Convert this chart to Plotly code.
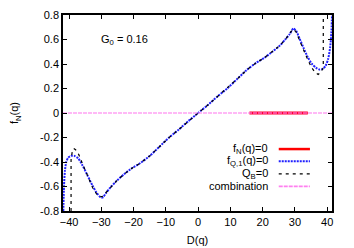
import plotly.graph_objects as go

# f_Q,1(q)=0 curve (blue dotted)
fq_D = [-41.8, -41.6, -41.3, -40.9, -40.3, -39.4, -38.4, -37.2, -35.8, -34.3,
        -32.8, -31.5, -30.4, -29.6, -28.6, -27.3, -25.5, -23.0, -20.5, -18.0,
        -15.0, -12.0, -9.0, -6.0, -3.0, 0.0, 3.0, 6.0, 9.0, 12.0,
        15.0, 18.0, 20.5, 23.0, 25.3, 27.0, 28.4, 29.5, 30.4, 31.4,
        32.7, 34.0, 35.3, 36.5, 37.6, 38.6, 39.5, 40.3, 40.9, 41.3, 41.5]
fq_f = [-0.80, -0.60, -0.47, -0.40, -0.365, -0.35, -0.35, -0.37, -0.43, -0.51,
        -0.59, -0.65, -0.685, -0.69, -0.655, -0.61, -0.56, -0.50, -0.45, -0.41,
        -0.35, -0.275, -0.20, -0.135, -0.065, 0.0, 0.065, 0.135, 0.20, 0.275,
        0.35, 0.41, 0.45, 0.50, 0.55, 0.60, 0.645, 0.69, 0.67, 0.61,
        0.53, 0.455, 0.40, 0.37, 0.355, 0.36, 0.385, 0.44, 0.53, 0.65, 0.80]

# Q_B=0 curve (black dashed)
qb_D = [-39.4, -39.4, -39.0, -38.6, -38.0, -37.0, -35.6, -34.1, -32.7, -31.5,
        -30.5, -29.6, -28.6, -27.3, -25.5, -23.0, -20.5, -18.0, -15.0, -12.0,
        -9.0, -6.0, -3.0, 0.0, 3.0, 6.0, 9.0, 12.0, 15.0, 18.0,
        20.5, 23.0, 25.3, 27.0, 28.4, 29.4, 30.3, 31.3, 32.6, 33.9,
        35.2, 36.3, 37.2, 38.0, 38.8, 38.8]
qb_f = [-0.80, -0.38, -0.31, -0.29, -0.30, -0.34, -0.43, -0.53, -0.61, -0.66,
        -0.685, -0.68, -0.65, -0.61, -0.56, -0.50, -0.45, -0.41, -0.35, -0.275,
        -0.20, -0.135, -0.065, 0.0, 0.065, 0.135, 0.20, 0.275, 0.35, 0.41,
        0.45, 0.50, 0.55, 0.60, 0.645, 0.685, 0.665, 0.60, 0.52, 0.44,
        0.37, 0.33, 0.315, 0.33, 0.37, 0.80]

# f_N(q)=0 segment (red) and combination (magenta)
fn_D = [15.9, 34.0]
fn_f = [0.0, 0.0]
comb_D = [-41.9, 41.5]
comb_f = [0.0, 0.0]

x_ticks = [-40, -30, -20, -10, 0, 10, 20, 30, 40]
y_ticks = [-0.8, -0.6, -0.4, -0.2, 0, 0.2, 0.4, 0.6, 0.8]
y_labels = ["-0.8", "-0.6", "-0.4", "-0.2", "0", "0.2", "0.4", "0.6", "0.8"]

series_names = ["f<sub>N</sub>(q)=0", "f<sub>Q,1</sub>(q)=0", "Q<sub>B</sub>=0", "combination"]
series_colors = ["#ff0000", "#2020ff", "#000000", "#ff80f0"]
series_dash = ["solid", "2px,1px", "3px,4px", "4px,1px"]
series_width = [2.5, 2, 1.2, 1.8]

FONT = "Liberation Sans, Arial, sans-serif"

fig = go.Figure()
fig.add_trace(go.Scatter(x=fn_D, y=fn_f, mode="lines", name=series_names[0],
                         line=dict(color="#ff0030", width=3)))
fig.add_trace(go.Scatter(x=fq_D, y=fq_f, mode="lines", name=series_names[1],
                         line=dict(color=series_colors[1], width=series_width[1], dash=series_dash[1],
                                   shape="spline", smoothing=0.6)))
fig.add_trace(go.Scatter(x=qb_D, y=qb_f, mode="lines", name=series_names[2],
                         line=dict(color=series_colors[2], width=series_width[2], dash=series_dash[2])))
fig.add_trace(go.Scatter(x=comb_D, y=comb_f, mode="lines", name=series_names[3],
                         line=dict(color=series_colors[3], width=2, dash=series_dash[3]), opacity=0.55))

axis_common = dict(showline=True, linecolor="black", linewidth=1.5, mirror="ticks",
                   ticks="inside", ticklen=4, tickwidth=1, tickcolor="black",
                   showgrid=False, zeroline=False, automargin=False,
                   tickfont=dict(family=FONT, size=11, color="black"))

fig.update_xaxes(range=[-41.9, 41.5], tickvals=x_ticks, side="bottom",
                 title=dict(text="D(q)", font=dict(family=FONT, size=11, color="black"), standoff=9),
                 **axis_common)
fig.update_yaxes(range=[-0.8, 0.8], tickvals=y_ticks, ticktext=y_labels, side="left",
                 title=dict(text="f<sub>N</sub>(q)", font=dict(family=FONT, size=11, color="black"), standoff=19),
                 **axis_common)

fig.add_annotation(x=-30.6, y=0.6, xref="x", yref="y", xanchor="left", yanchor="middle",
                   text="G<sub>0</sub> = 0.16", showarrow=False,
                   font=dict(family=FONT, size=11, color="black"))

# gnuplot-style key: right-aligned labels with line samples to their right
key_rows = [0.316, 0.254, 0.189, 0.126]
key_text_x = 0.7695
key_sample_x = [0.802, 0.918]
for name, color, dash, width, ky in zip(series_names, series_colors, series_dash, series_width, key_rows):
    fig.add_annotation(x=key_text_x, y=ky, xref="paper", yref="paper", xanchor="right", yanchor="middle",
                       text=name, showarrow=False, font=dict(family=FONT, size=11, color="black"))
    fig.add_shape(type="line", xref="paper", yref="paper", x0=key_sample_x[0], x1=key_sample_x[1],
                  y0=ky, y1=ky, line=dict(color=color, width=width, dash=dash))

fig.update_layout(width=354, height=248, margin=dict(l=63, r=22, t=15, b=37, autoexpand=False),
                  paper_bgcolor="white", plot_bgcolor="white", showlegend=False,
                  font=dict(family=FONT, size=11, color="black"))

fig.write_html("out.html", config={"displayModeBar": False},
               post_script="document.body.style.margin='0';document.body.style.overflow='hidden';")
